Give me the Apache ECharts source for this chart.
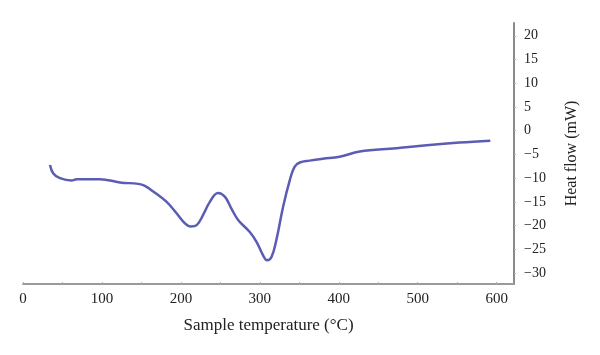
<!DOCTYPE html>
<html>
<head>
<meta charset="utf-8">
<script src="https://cdn.jsdelivr.net/npm/echarts@6/dist/echarts.min.js"></script>
<style>html,body{margin:0;padding:0;background:#fff}#c{width:600px;height:355px}</style>
</head>
<body>
<div id="c"></div>
<script>
var temperature = [34.2, 38.4, 46.8, 61.6, 68, 97.5, 122.8, 146, 154.4, 165, 182, 194.5, 205, 212.7, 220, 228, 236.7, 247, 255.7, 264, 272.5, 287, 295.8, 304, 309, 314.8, 321, 329.5, 338, 344, 350.6, 363, 380, 401, 426.6, 473, 515, 553, 592];
var heatFlow = [-7.2, -9.0, -10.0, -10.5, -10.2, -10.2, -10.9, -11.2, -11.6, -12.8, -15.0, -17.4, -19.5, -20.2, -19.9, -17.8, -15.0, -13.1, -13.9, -16.4, -18.8, -21.3, -23.4, -26.2, -27.3, -26.6, -23.0, -16.0, -10.4, -7.6, -6.7, -6.3, -5.9, -5.5, -4.4, -3.7, -3.0, -2.5, -2.1];
var xTicks = [0, 100, 200, 300, 400, 500, 600];
var xMinorTicks = [0, 50, 100, 150, 200, 250, 300, 350, 400, 450, 500, 550, 600];
var yTicks = [20, 15, 10, 5, 0, -5, -10, -15, -20, -25, -30];

var chart = echarts.init(document.getElementById('c'), null, {renderer: 'canvas'});
var font = '"Liberation Serif", "DejaVu Serif", serif';
chart.setOption({
  animation: false,
  grid: {left: 23, right: 86, top: 23, bottom: 71},
  xAxis: {
    type: 'value', min: 0, max: 622,
    name: 'Sample temperature (°C)', nameLocation: 'middle', nameGap: 33,
    nameTextStyle: {fontFamily: font, fontSize: 17, color: '#222'},
    axisLine: {show: true, onZero: false, lineStyle: {color: '#9a9a9a', width: 2}},
    axisTick: {show: true, inside: true, length: 2, customValues: xMinorTicks, lineStyle: {color: '#b0b0b0'}},
    axisLabel: {customValues: xTicks, fontFamily: font, fontSize: 15, color: '#222', margin: 8},
    splitLine: {show: false}
  },
  yAxis: {
    type: 'value', position: 'right', min: -32.3, max: 22.7,
    name: 'Heat flow (mW)', nameLocation: 'middle', nameGap: 50, nameRotate: 90,
    nameTextStyle: {fontFamily: font, fontSize: 16, color: '#222'},
    axisLine: {show: true, onZero: false, lineStyle: {color: '#8a8a8a', width: 2}},
    axisTick: {show: true, length: 2, customValues: yTicks, lineStyle: {color: '#b0b0d8'}},
    axisLabel: {customValues: yTicks, fontFamily: font, fontSize: 14, color: '#222', margin: 10,
      formatter: function (v) { return v < 0 ? '\u2212' + Math.abs(v) : String(v); }},
    splitLine: {show: false}
  },
  series: [{
    type: 'line',
    data: temperature.map(function (t, i) { return [t, heatFlow[i]]; }),
    smooth: 0.4, showSymbol: false,
    lineStyle: {color: '#5a5db3', width: 2.5}
  }]
});
</script>
</body>
</html>
